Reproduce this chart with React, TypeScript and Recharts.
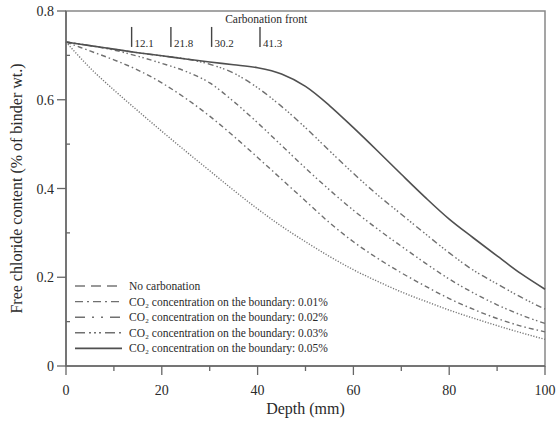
import { LineChart, Line, XAxis, YAxis, ReferenceArea, ReferenceDot, Legend, Label } from 'recharts';

const depth = [0, 5, 10, 15, 20, 25, 30, 35, 40, 45, 50, 55, 60, 65, 70, 75, 80, 85, 90, 95, 100];
const noCarb = [0.730, 0.672, 0.622, 0.575, 0.529, 0.484, 0.440, 0.396, 0.354, 0.315, 0.280, 0.247, 0.217, 0.191, 0.167, 0.146, 0.126, 0.108, 0.091, 0.075, 0.060];
const co2_001 = [0.730, 0.710, 0.690, 0.667, 0.638, 0.603, 0.563, 0.518, 0.470, 0.421, 0.372, 0.323, 0.280, 0.243, 0.210, 0.180, 0.152, 0.128, 0.107, 0.090, 0.077];
const co2_002 = [0.730, 0.722, 0.712, 0.698, 0.682, 0.664, 0.638, 0.596, 0.548, 0.497, 0.446, 0.397, 0.351, 0.309, 0.270, 0.232, 0.196, 0.165, 0.138, 0.115, 0.096];
const co2_003 = [0.730, 0.722, 0.714, 0.706, 0.699, 0.692, 0.680, 0.660, 0.627, 0.585, 0.537, 0.485, 0.434, 0.386, 0.342, 0.298, 0.255, 0.216, 0.185, 0.155, 0.128];
const co2_005 = [0.730, 0.722, 0.714, 0.706, 0.699, 0.692, 0.685, 0.679, 0.672, 0.658, 0.630, 0.587, 0.537, 0.485, 0.432, 0.380, 0.331, 0.289, 0.248, 0.208, 0.173];

const xTicks = [0, 10, 20, 30, 40, 50, 60, 70, 80, 90, 100];
const yTicks = [0, 0.1, 0.2, 0.3, 0.4, 0.5, 0.6, 0.7, 0.8];

// carbonation front markers (position, label as printed)
const frontDepth = [13.7, 21.9, 30.4, 40.5];
const frontLabels = ['12.1', '21.8', '30.2', '41.3'];

const seriesNames = [
  'No carbonation',
  'CO₂ concentration on the boundary: 0.01%',
  'CO₂ concentration on the boundary: 0.02%',
  'CO₂ concentration on the boundary: 0.03%',
  'CO₂ concentration on the boundary: 0.05%',
];

const data = depth.map((d, i) => ({
  depth: d,
  noCarb: noCarb[i],
  co2_001: co2_001[i],
  co2_002: co2_002[i],
  co2_003: co2_003[i],
  co2_005: co2_005[i],
}));

const FONT = '"Liberation Serif", "DejaVu Serif", serif';
const TEXT = '#2a2a2a';
const AXIS = '#666';

const plotDash = ['1.2 1.6', '5 3 1.5 3', '5 3 1.5 2.5 1.5 3', '6 3 1.5 2 1.5 2 1.5 3', undefined];
const legendDash = ['10 6', '8 4 2 4', '10 7 2 7 2 7', '10 4 2 3 2 3 2 4', undefined];
const strokes = ['#777', '#707070', '#707070', '#707070', '#505050'];

const XTick = (props: any) => {
  const { x, y, payload } = props;
  const major = payload.value % 20 === 0;
  return (
    <g>
      <line x1={x} x2={x} y1={y} y2={y + (major ? 9 : 5)} stroke={AXIS} strokeWidth={1.3} />
      {major && (
        <text x={x} y={y + 29} textAnchor="middle" fontSize={14} fill={TEXT} fontFamily={FONT}>
          {payload.value}
        </text>
      )}
    </g>
  );
};

const YTick = (props: any) => {
  const { x, y, payload, index } = props;
  const major = index % 2 === 0;
  return (
    <g>
      {major ? (
        <line x1={x - 9} x2={x} y1={y} y2={y} stroke={AXIS} strokeWidth={1.3} />
      ) : (
        <line x1={x} x2={x + 4} y1={y} y2={y} stroke={AXIS} strokeWidth={1.3} />
      )}
      {major && (
        <text x={x - 12} y={y + 5} textAnchor="end" fontSize={14} fill={TEXT} fontFamily={FONT}>
          {payload.value === 0 ? '0' : payload.value.toFixed(1)}
        </text>
      )}
    </g>
  );
};

const LegendBox = () => (
  <svg width={300} height={82}>
    {seriesNames.map((name, i) => {
      const cy = 8 + i * 15.6;
      return (
        <g key={name}>
          <line x1={5} x2={52} y1={cy} y2={cy} stroke={strokes[i]} strokeWidth={i === 4 ? 1.6 : 1.4} strokeDasharray={legendDash[i]} />
          <text x={59} y={cy + 4} fontSize={11.5} fill={TEXT} fontFamily={FONT}>
            {name}
          </text>
        </g>
      );
    })}
  </svg>
);

const frontShape = (label: string) => (p: any) => (
  <g>
    <line x1={p.cx} x2={p.cx} y1={p.cy} y2={p.cy - 20} stroke="#444" strokeWidth={1.4} />
    <text x={p.cx + 3} y={p.cy} fontSize={11} fill={TEXT} fontFamily={FONT}>
      {label}
    </text>
  </g>
);

const titleShape = (p: any) => (
  <text x={p.cx} y={p.cy + 4} textAnchor="middle" fontSize={11.5} fill={TEXT} fontFamily={FONT}>
    Carbonation front
  </text>
);

export default function App() {
  const keys = ['noCarb', 'co2_001', 'co2_002', 'co2_003', 'co2_005'];
  return (
    <div style={{ position: 'absolute', left: 0, top: 0, background: '#fff' }}>
      <LineChart
        width={556}
        height={431}
        data={data}
        margin={{ top: 11, right: 11, bottom: 5, left: 0 }}
        style={{ fontFamily: FONT }}
      >
        <XAxis
          dataKey="depth"
          type="number"
          domain={[0, 100]}
          ticks={xTicks}
          tick={<XTick />}
          tickLine={false}
          tickSize={0}
          tickMargin={0}
          height={60}
          axisLine={{ stroke: AXIS, strokeWidth: 1.5 }}
          interval={0}
        >
          <Label value="Depth (mm)" position="insideBottom" offset={12} fontSize={16} fill={TEXT} fontFamily={FONT} />
        </XAxis>
        <YAxis
          type="number"
          domain={[0, 0.8]}
          ticks={yTicks}
          tick={<YTick />}
          tickLine={false}
          tickSize={0}
          tickMargin={0}
          width={66}
          axisLine={{ stroke: AXIS, strokeWidth: 1.5 }}
          interval={0}
        >
          <Label
            value="Free chloride content (% of binder wt.)"
            angle={-90}
            position="insideLeft"
            offset={16}
            fontSize={16}
            fill={TEXT}
            fontFamily={FONT}
            style={{ textAnchor: 'middle' }}
          />
        </YAxis>
        <ReferenceArea x1={0} x2={100} y1={0} y2={0.8} fill="none" stroke="#888" strokeWidth={1.5} />
        {keys.map((k, i) => (
          <Line
            key={k}
            dataKey={k}
            name={seriesNames[i]}
            type="monotone"
            stroke={strokes[i]}
            strokeWidth={i === 4 ? 1.6 : 1.4}
            strokeDasharray={plotDash[i]}
            dot={false}
            activeDot={false}
            isAnimationActive={false}
          />
        ))}
        {frontDepth.map((d, i) => (
          <ReferenceDot key={d} x={d} y={0.719} r={0} shape={frontShape(frontLabels[i])} />
        ))}
        <ReferenceDot x={41.8} y={0.782} r={0} shape={titleShape} />
        <Legend
          layout="vertical"
          align="center"
          verticalAlign="middle"
          wrapperStyle={{ left: 70, top: 278, width: 300, height: 82 }}
          content={() => <LegendBox />}
        />
      </LineChart>
    </div>
  );
}
